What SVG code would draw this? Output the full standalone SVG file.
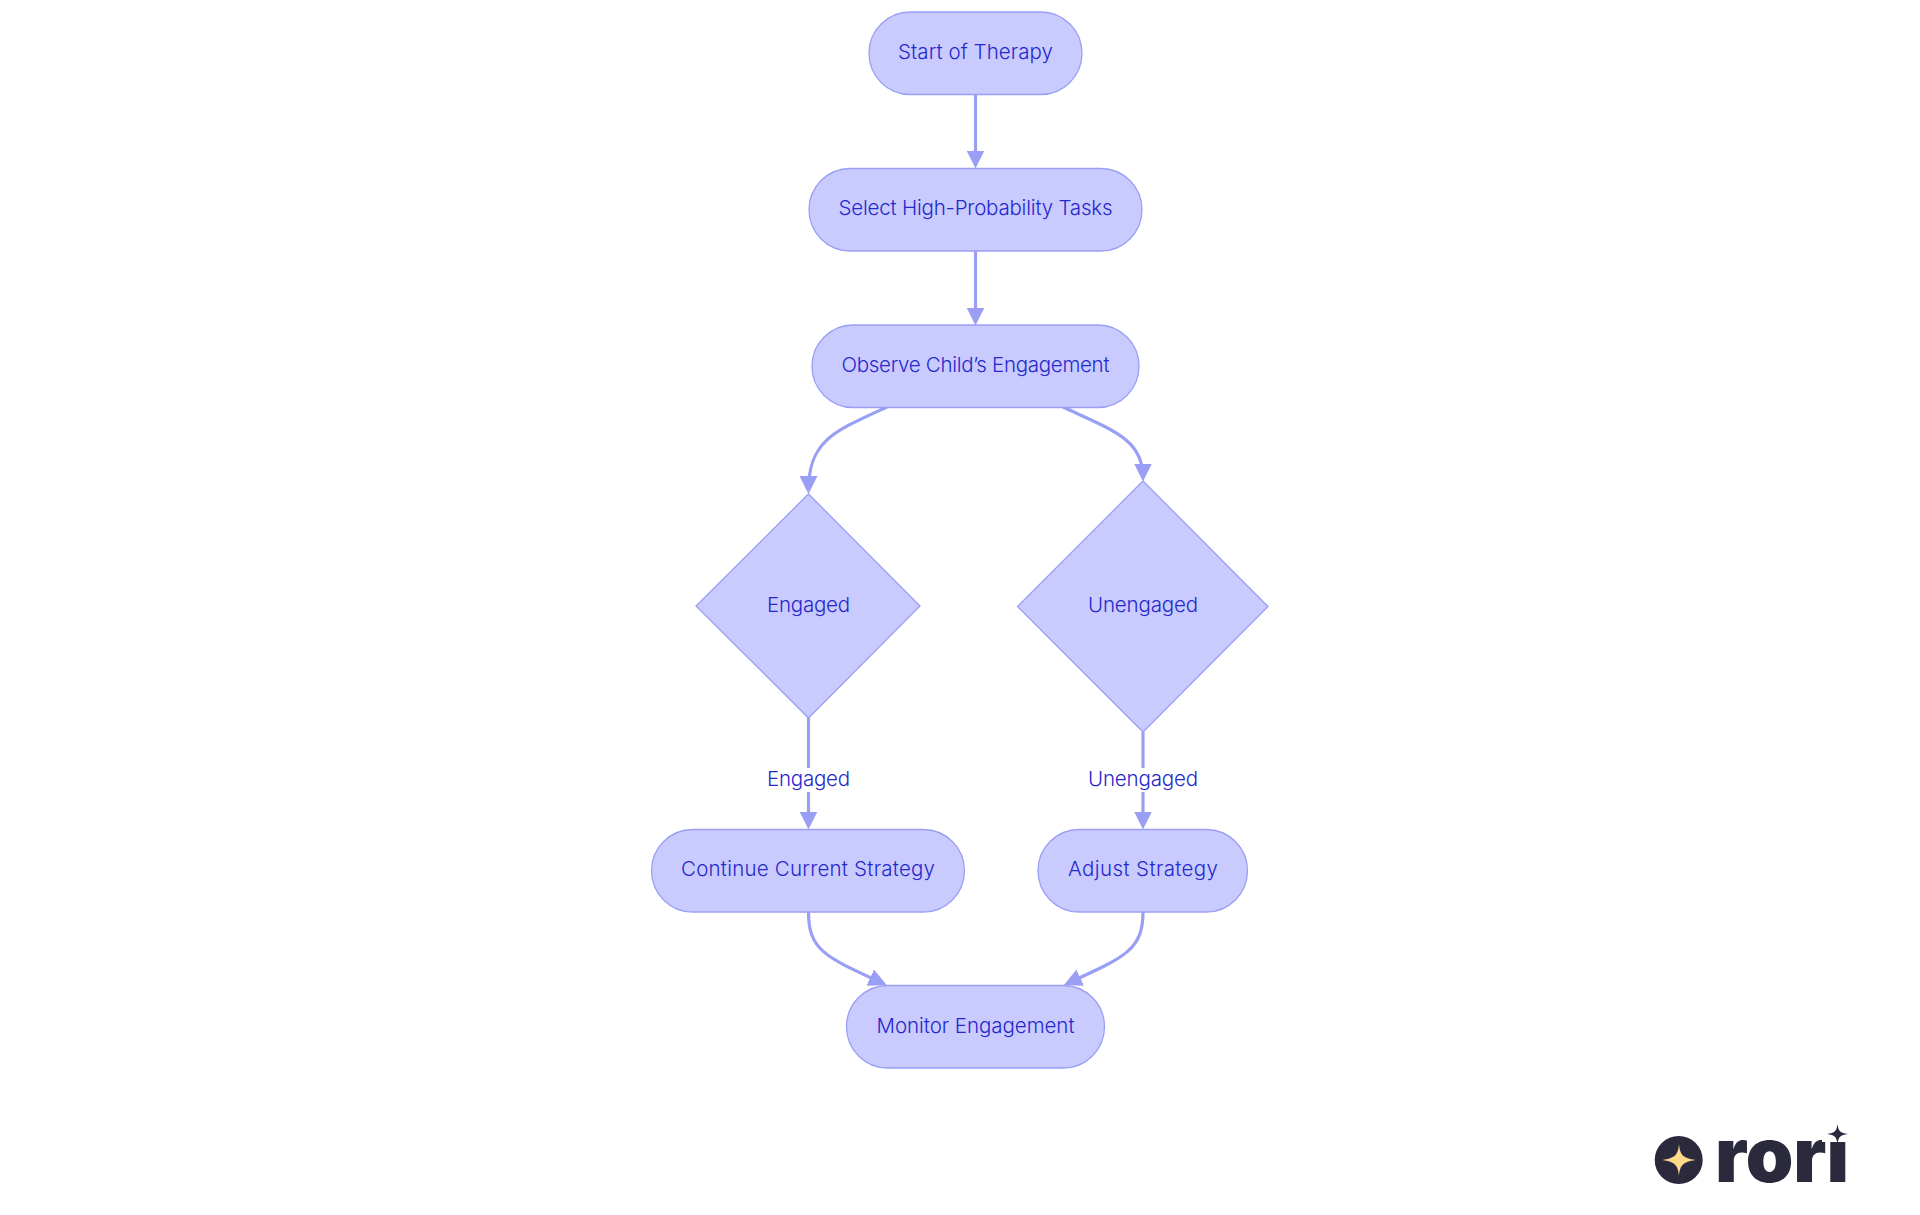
<svg xmlns="http://www.w3.org/2000/svg" width="1920" height="1215" viewBox="0 0 1920 1215">
<style>
.n{fill:#c9cbff;stroke:#9a9ff5;stroke-width:1.3}
.e{fill:none;stroke:#9a9ff5;stroke-width:3.2;marker-end:url(#arrow)}
text{font-family:"Inter","Noto Sans","Liberation Sans",sans-serif;font-size:20.5px;font-weight:350;fill:#2528cc;text-anchor:middle}
.lb{fill:#fff}
</style>
<defs>
<marker id="arrow" markerUnits="userSpaceOnUse" markerWidth="18" markerHeight="18" viewBox="0 0 18 18" refX="14" refY="9" orient="auto"><path d="M0,0L18,9L0,18z" fill="#9a9ff5"/></marker>
</defs>
<rect width="1920" height="1215" fill="#fff"/>
<g id="connectors">
<path class="e" d="M975.500,95L975.500,164.500"/>
<path class="e" d="M975.500,251L975.500,321.500"/>
<path class="e" d="M887,407C835,431 808.500,440 808.500,490"/>
<path class="e" d="M1063,407C1115,431 1143,440 1143,477.500"/>
<path class="e" d="M808.500,718L808.500,825.500"/>
<path class="e" d="M1143,732L1143,825.500"/>
<path class="e" d="M808.500,912C808.500,950 825,957 883,983.400"/>
<path class="e" d="M1143,912C1143,950 1125,957 1067.500,983.400"/>
</g>
<g id="label-engaged"><rect class="lb" x="767" y="768" width="83" height="24"/><text x="808.500" y="786" textLength="83">Engaged</text></g>
<g id="label-unengaged"><rect class="lb" x="1088" y="768" width="110" height="24"/><text x="1143" y="786" textLength="110">Unengaged</text></g>
<g id="start"><rect class="n" x="869" y="12" width="213" height="82.500" rx="41.250"/><text x="975.500" y="59" textLength="155">Start of Therapy</text></g>
<g id="select"><rect class="n" x="809" y="168.500" width="333" height="82.500" rx="41.250"/><text x="975.500" y="215" textLength="274">Select High-Probability Tasks</text></g>
<g id="observe"><rect class="n" x="812" y="325" width="327" height="82.500" rx="41.250"/><text x="975.500" y="372" textLength="268">Observe Child’s Engagement</text></g>
<g id="engaged"><polygon class="n" points="808.500,494 920,606 808.500,718 696,606"/><text x="808.500" y="611.500" textLength="83">Engaged</text></g>
<g id="unengaged"><polygon class="n" points="1143,481 1268,606.500 1143,732 1017.500,606.500"/><text x="1143" y="611.500" textLength="110">Unengaged</text></g>
<g id="continue"><rect class="n" x="651.500" y="829.500" width="313" height="82.500" rx="41.250"/><text x="808" y="876" textLength="254">Continue Current Strategy</text></g>
<g id="adjust"><rect class="n" x="1038" y="829.500" width="209.500" height="82.500" rx="41.250"/><text x="1143" y="876" textLength="150">Adjust Strategy</text></g>
<g id="monitor"><rect class="n" x="846.500" y="985.500" width="258" height="82.500" rx="41.250"/><text x="975.500" y="1032.500" textLength="198">Monitor Engagement</text></g>
<g id="logo">
<circle cx="1678.700" cy="1160" r="24" fill="#2a2a3c"/>
<path d="M1679,1144C1680,1155 1683,1158 1695.500,1160C1683,1162 1680,1165 1679,1176C1678,1165 1675,1162 1662.500,1160C1675,1158 1678,1155 1679,1144Z" fill="#ffd98a"/>
<text x="1782" y="1181.700" textLength="134" lengthAdjust="spacingAndGlyphs" style="font-size:76px;font-weight:900;fill:#2a2a3c">rori</text>
<rect x="1822" y="1112" width="32" height="30" fill="#fff"/>
<path d="M1837.500,1124C1838.500,1131 1840,1133 1848,1134C1840,1135 1838.500,1137 1837.500,1144C1836.500,1137 1835,1135 1827,1134C1835,1133 1836.500,1131 1837.500,1124Z" fill="#2a2a3c"/>
</g>
</svg>
